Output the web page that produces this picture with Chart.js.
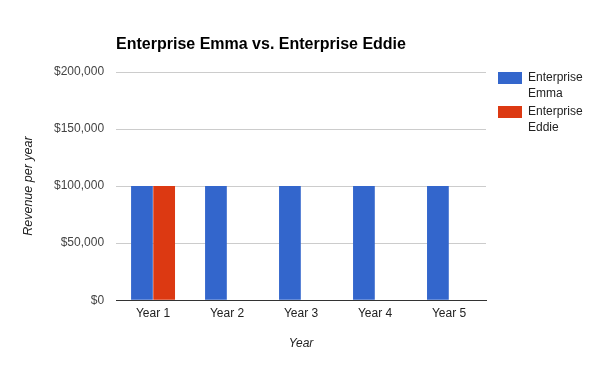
<!DOCTYPE html>
<html>
<head>
<meta charset="utf-8">
<script src="https://cdn.jsdelivr.net/npm/chart.js@4/dist/chart.umd.min.js"></script>
<style>
  html, body { margin: 0; padding: 0; background: #fff; }
  #wrap { width: 600px; height: 371px; position: relative; }
</style>
</head>
<body>
<div id="wrap"><canvas id="revenueChart"></canvas></div>
<script>
const chartTitle = "Enterprise Emma vs. Enterprise Eddie";
const years = ["Year 1", "Year 2", "Year 3", "Year 4", "Year 5"];
const seriesNames = ["Enterprise Emma", "Enterprise Eddie"];
const emmaRevenue = [100000, 100000, 100000, 100000, 100000];
const eddieRevenue = [100000, 0, 0, 0, 0];
const seriesColors = ["#3366cc", "#dc3912"];
const yTicks = [0, 50000, 100000, 150000, 200000];

const fontFamily = "Arial, 'Liberation Sans', sans-serif";

// title sits over the plot area, left aligned with it
const titlePlugin = {
    id: "leftTitle",
    afterDraw(chart){
        const ctx = chart.ctx;
        ctx.save();
        ctx.font = "bold 16px " + fontFamily;
        ctx.fillStyle = "#000";
        ctx.textBaseline = "middle";
        ctx.textAlign = "left";
        ctx.fillText(chartTitle, chart.chartArea.left, 45);
        ctx.restore();
    }
};

// legend on the right with wrapped labels
const sideLegend = {
    id: "sideLegend",
    afterDraw(chart){
        const ctx = chart.ctx;
        const x = chart.chartArea.right + 12;
        ctx.save();
        ctx.font = "12px " + fontFamily;
        ctx.textBaseline = "middle";
        ctx.textAlign = "left";
        chart.data.datasets.forEach((ds, i) => {
            const y = 78 + i * 34;
            ctx.fillStyle = ds.backgroundColor;
            ctx.fillRect(x, y - 6, 24, 12);
            ctx.fillStyle = "#222";
            ds.label.split(" ").forEach((word, j) => {
                ctx.fillText(word, x + 30, y + j * 16);
            });
        });
        ctx.restore();
    }
};

new Chart("revenueChart", {
    type: "bar",
    data: {
        labels: years,
        datasets: [
            {
                label: seriesNames[0],
                backgroundColor: seriesColors[0],
                data: emmaRevenue
            },
            {
                label: seriesNames[1],
                backgroundColor: seriesColors[1],
                data: eddieRevenue
            }
        ]
    },
    options: {
        responsive: true,
        maintainAspectRatio: false,
        animation: false,
        categoryPercentage: 0.6,
        barPercentage: 0.98,
        layout: {
            padding: { left: 17, right: 114, top: 72, bottom: 16 }
        },
        plugins: {
            legend: { display: false },
            title: { display: false },
            tooltip: { enabled: false }
        },
        scales: {
            x: {
                grid: { display: false, drawTicks: false },
                border: { display: true, color: "#333", width: 1 },
                ticks: {
                    color: "#222",
                    padding: 6,
                    font: { family: fontFamily, size: 12 }
                },
                title: {
                    display: true,
                    text: "Year",
                    color: "#222",
                    padding: { top: 10, bottom: 4 },
                    font: { family: fontFamily, size: 12, style: "italic" }
                }
            },
            y: {
                min: 0,
                max: 200000,
                afterBuildTicks(axis){
                    axis.ticks = yTicks.map(v => ({ value: v }));
                },
                grid: { color: "#cccccc", drawTicks: false },
                border: { display: false },
                ticks: {
                    color: "#444",
                    padding: 12,
                    font: { family: fontFamily, size: 12 },
                    callback: v => "$" + v.toLocaleString("en-US")
                },
                title: {
                    display: true,
                    text: "Revenue per year",
                    color: "#222",
                    padding: { top: 4, bottom: 6 },
                    font: { family: fontFamily, size: 12.5, style: "italic" }
                }
            }
        }
    },
    plugins: [titlePlugin, sideLegend]
});
</script>
</body>
</html>
